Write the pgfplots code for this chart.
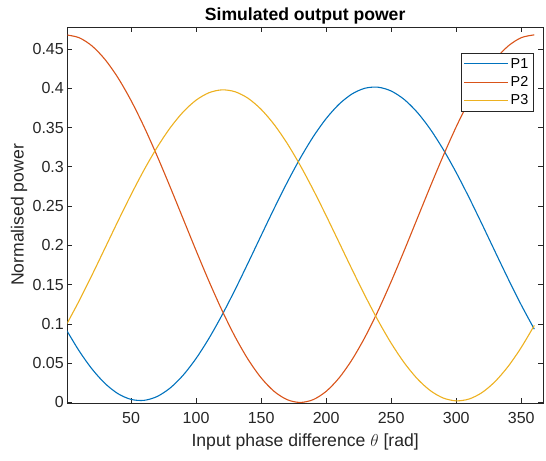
\documentclass[border=0pt]{standalone}
\usepackage{pgfplots}
\usepackage{pgfplotstable}
\usepackage{fontspec}
\setmainfont{Liberation Sans}
\pgfplotsset{compat=1.18}

\definecolor{axgray}{rgb}{0.15,0.15,0.15}
\definecolor{mblue}{rgb}{0,0.447,0.741}
\definecolor{morange}{rgb}{0.85,0.325,0.098}
\definecolor{myellow}{rgb}{0.929,0.694,0.125}

% Output powers of the three ports versus input phase difference
\pgfplotstableread{
theta P1      P2      P3
0     0.09329 0.46800 0.09802
10    0.06587 0.46445 0.12904
20    0.04259 0.45389 0.16222
30    0.02415 0.43665 0.19654
40    0.01112 0.41325 0.23097
50    0.00389 0.38441 0.26446
60    0.00267 0.35100 0.29599
70    0.00752 0.31403 0.32461
80    0.01827 0.27463 0.34943
90    0.03460 0.23400 0.36972
100   0.05602 0.19337 0.38485
110   0.08188 0.15397 0.39436
120   0.11138 0.11700 0.39797
130   0.14364 0.08359 0.39556
140   0.17767 0.05475 0.38721
150   0.21245 0.03135 0.37317
160   0.24690 0.01411 0.35388
170   0.27999 0.00355 0.32990
180   0.31071 0.00000 0.30198
190   0.33813 0.00355 0.27096
200   0.36141 0.01411 0.23778
210   0.37985 0.03135 0.20346
220   0.39288 0.05475 0.16903
230   0.40011 0.08359 0.13554
240   0.40133 0.11700 0.10401
250   0.39648 0.15397 0.07539
260   0.38573 0.19337 0.05057
270   0.36940 0.23400 0.03028
280   0.34798 0.27463 0.01515
290   0.32212 0.31403 0.00564
300   0.29262 0.35100 0.00203
310   0.26036 0.38441 0.00444
320   0.22633 0.41325 0.01279
330   0.19155 0.43665 0.02683
340   0.15710 0.45389 0.04612
350   0.12401 0.46445 0.07010
360   0.09329 0.46800 0.09802
}\powertable

\begin{document}
\begin{tikzpicture}
\begin{axis}[
  scale only axis,
  width=475.7pt, height=376pt,
  xmin=1, xmax=366.7,
  ymin=-0.0007, ymax=0.478,
  axis line style={axgray, line width=0.8pt},
  every tick/.style={axgray, line width=0.8pt},
  major tick length=5pt,
  tick align=inside,
  xtick pos=both, ytick pos=both,
  xtick={50,100,150,200,250,300,350},
  ytick={0,0.05,0.1,0.15,0.2,0.25,0.3,0.35,0.4,0.45},
  yticklabels={0,0.05,0.1,0.15,0.2,0.25,0.3,0.35,0.4,0.45},
  /pgf/number format/assume math mode=true,
  tick label style={font=\fontsize{16}{19}\selectfont, text=axgray},
  xticklabel style={yshift=-6pt},
  xlabel={Input phase difference $\theta$ [rad]},
  ylabel={Normalised power},
  title={Simulated output power},
  every axis x label/.style={at={(axis description cs:0.5,-0.117)}, anchor=base,
    font=\fontsize{17.6}{21}\selectfont, text=axgray},
  every axis y label/.style={at={(axis description cs:-0.092,0.5)}, rotate=90, anchor=base,
    font=\fontsize{17.6}{21}\selectfont, text=axgray},
  every axis title/.style={at={(axis description cs:0.5,1.0186)}, anchor=base,
    font=\fontsize{17.6}{21}\selectfont\bfseries, text=black},
  legend image code/.code={%
    \draw[mark repeat=2, mark phase=2, #1]
      plot coordinates {(0pt,0pt) (22pt,0pt) (44pt,0pt)};},
  legend style={at={(axis description cs:0.979,0.931)}, anchor=north east,
    font=\fontsize{14.4}{17}\selectfont, draw=axgray,
    inner xsep=2.5pt, inner ysep=3pt, row sep=2.8pt,
    nodes={inner sep=2pt}},
  legend cell align=left,
]
\addplot[mblue, line width=1.1pt, smooth] table[x=theta, y=P1] {\powertable};
\addplot[morange, line width=1.1pt, smooth] table[x=theta, y=P2] {\powertable};
\addplot[myellow, line width=1.1pt, smooth] table[x=theta, y=P3] {\powertable};
\legend{P1,P2,P3}
\end{axis}
\pgfresetboundingbox
\path ([shift={(-67.3pt,-57.7pt)}]current axis.south west) rectangle ([shift={(3pt,27pt)}]current axis.north east);
\end{tikzpicture}
\end{document}
